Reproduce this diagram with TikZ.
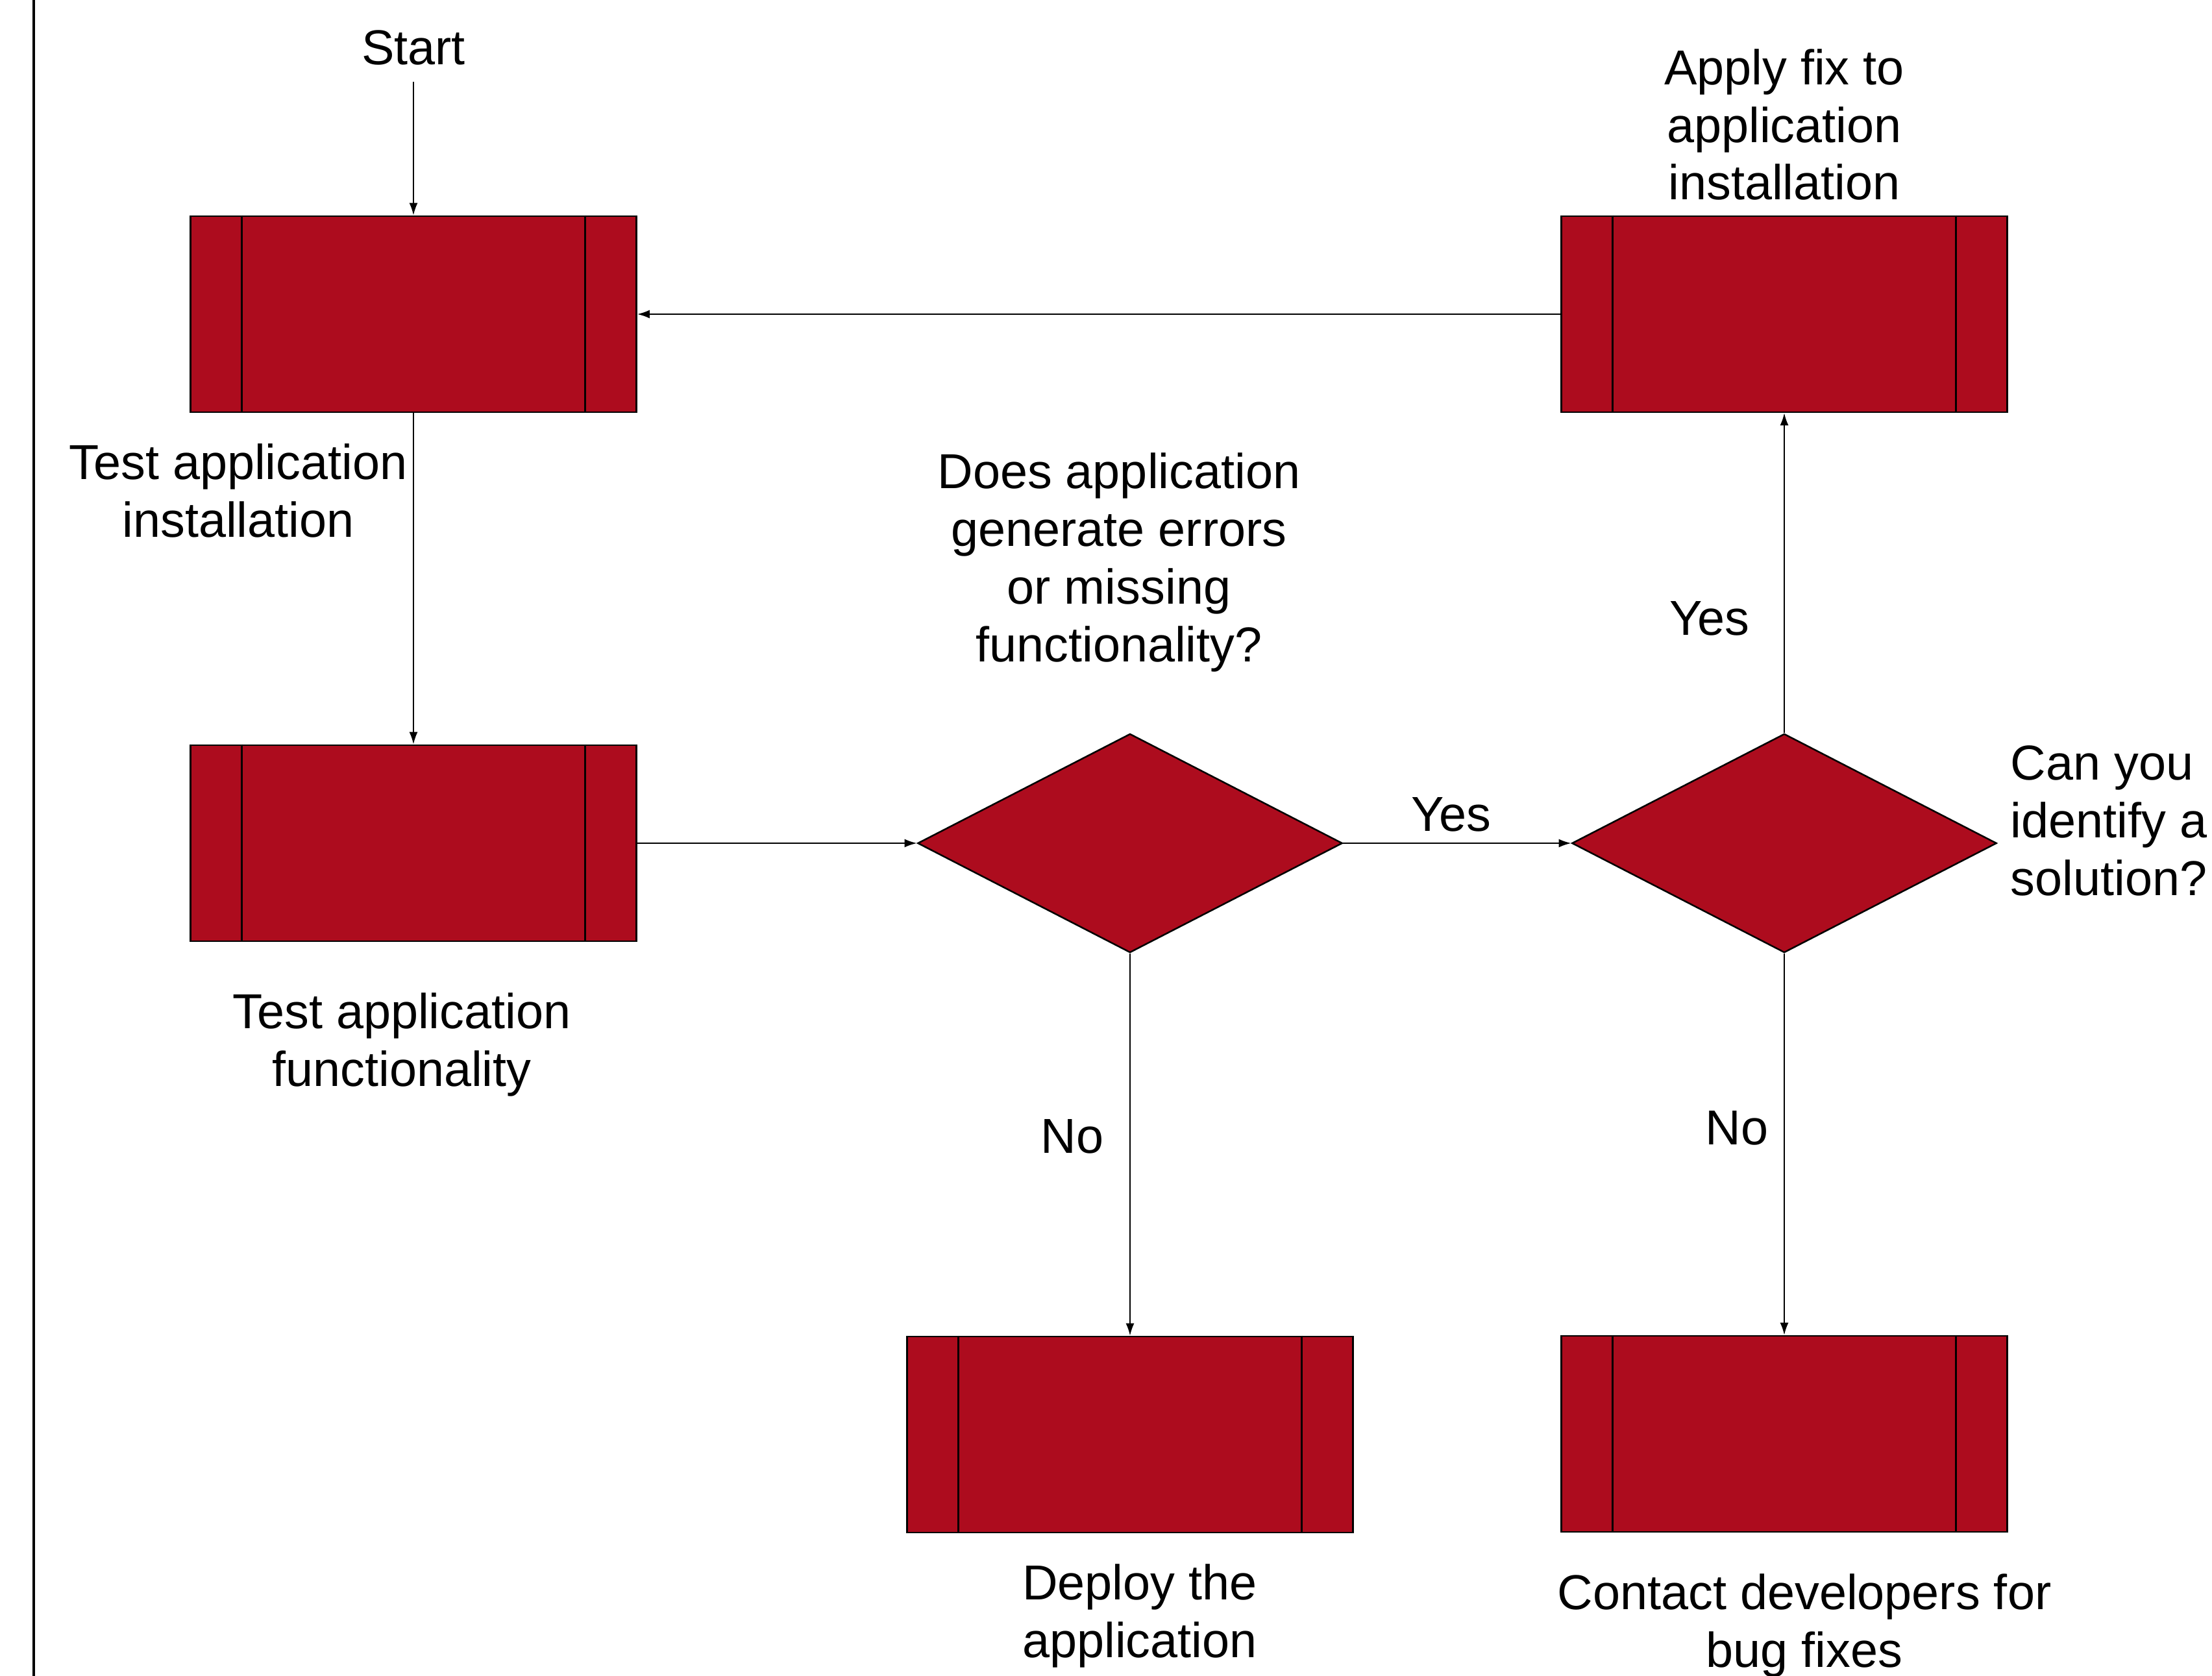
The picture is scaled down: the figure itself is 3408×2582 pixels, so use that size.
\documentclass[tikz,border=0pt]{standalone}
\usepackage{fontspec}
\setmainfont{Liberation Sans}
\usetikzlibrary{shapes.geometric,arrows.meta}
\definecolor{boxred}{RGB}{173,12,30}
\begin{document}
\begin{tikzpicture}[x=0.01cm,y=-0.01cm,
  font=\fontsize{21.5}{25.3}\selectfont,
  procbox/.style={rectangle,draw=black,fill=boxred,line width=0.025cm,minimum width=6.87cm,minimum height=3.02cm,inner sep=0pt},
  decbox/.style={diamond,draw=black,fill=boxred,line width=0.025cm,minimum width=6.54cm,minimum height=3.37cm,inner sep=0pt},
  conn/.style={line width=0.02cm,-{Latex[length=0.19cm,width=0.13cm]}},
  lbl/.style={align=center,inner sep=0pt}]
\useasboundingbox (0,0) rectangle (3408,2582);
\draw[line width=0.03cm] (52,0) -- (52,2582);
% process boxes
\node[procbox] (b1) at (637,484) {};
\node[procbox] (b2) at (637,1299) {};
\node[procbox] (b3) at (1741,2210) {};
\node[procbox] (b4) at (2749,2209) {};
\node[procbox] (b5) at (2749,484) {};
\foreach \b in {b1,b2,b3,b4,b5}{
  \draw[line width=0.025cm] ([xshift=0.804cm]\b.north west) -- ([xshift=0.804cm]\b.south west);
  \draw[line width=0.025cm] ([xshift=-0.804cm]\b.north east) -- ([xshift=-0.804cm]\b.south east);
}
% decisions
\node[decbox] (d1) at (1741,1299) {};
\node[decbox] (d2) at (2749,1299) {};
% texts
\node[lbl] (start) at (637,73) {Start};
\coordinate (s0) at (637,126);
\node[lbl] (t1) at (367,756) {Test application\\installation};
\node[lbl] (t2) at (619,1609) {Test application\\functionality};
\node[lbl] (t3) at (1724,866) {Does application\\generate errors\\or missing\\functionality?};
\node[lbl] (t4) at (1756,2489) {Deploy the\\application};
\node[lbl,align=left,anchor=west] (t5) at (3097,1264) {Can you\\identify a\\solution?};
\node[lbl] (t6) at (2780,2504) {Contact developers for\\bug fixes};
\node[lbl] (t7) at (2749,192) {Apply fix to\\application\\installation};
\node[lbl] (y1) at (2236,1255) {Yes};
\node[lbl] (y2) at (2634,953) {Yes};
\node[lbl] (n1) at (1652,1751) {No};
\node[lbl] (n2) at (2676,1738) {No};
% connectors
\draw[conn] (s0) -- (b1.north);
\draw[conn] (b1.south) -- (b2.north);
\draw[conn] (b2.east) -- (d1.west);
\draw[conn] (d1.east) -- (d2.west);
\draw[conn] (d1.south) -- (b3.north);
\draw[conn] (d2.north) -- (b5.south);
\draw[conn] (d2.south) -- (b4.north);
\draw[conn] (b5.west) -- (b1.east);
\end{tikzpicture}
\end{document}
